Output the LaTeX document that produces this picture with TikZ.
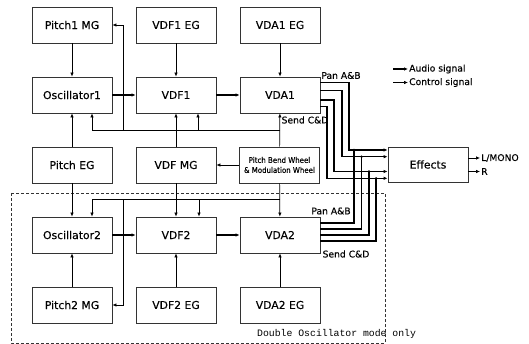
\documentclass[tikz,border=0pt]{standalone}
\usepackage{fontspec}
\setmainfont{DejaVu Sans}[FakeBold=0.35]
\newfontfamily\condfont{DejaVu Sans Condensed}[FakeBold=0.3]
\newfontfamily\monofont{Liberation Mono}
\usetikzlibrary{arrows.meta}
\begin{document}
\begin{tikzpicture}[x=1pt,y=-1pt,
  blk/.style={draw=black!80,line width=0.8pt,minimum width=80pt,minimum height=36pt,inner sep=0pt,font=\fontsize{10.8}{12}\selectfont},
  ctrl/.style={line width=0.7pt,-{Latex[length=4pt,width=3.5pt]}},
  audio/.style={line width=1.3pt,-{Latex[length=4pt,width=3.5pt]}},
  wire/.style={line width=1.3pt},
  lbl/.style={font=\fontsize{9.2}{10}\selectfont,inner sep=0pt},
  jdot/.style={fill,circle,inner sep=0pt,minimum size=2.6pt}]
\useasboundingbox (0,0) rectangle (529,344);
% blocks
\node[blk] (p1mg) at (72,25) {Pitch1 MG};
\node[blk] (vdf1eg) at (176,25) {VDF1 EG};
\node[blk] (vda1eg) at (280,25) {VDA1 EG};
\node[blk] (osc1) at (72,95) {Oscillator1};
\node[blk] (vdf1) at (176,95) {VDF1};
\node[blk] (vda1) at (280,95) {VDA1};
\node[blk] (peg) at (72,165) {Pitch EG};
\node[blk] (vdfmg) at (176,165) {VDF MG};
\node[blk,font=\condfont\fontsize{7.8}{10}\selectfont,align=center] (wheel) at (279.5,165) {Pitch Bend Wheel\\[0pt]\& Modulation Wheel};
\node[blk] (osc2) at (72,235) {Oscillator2};
\node[blk] (vdf2) at (176,235) {VDF2};
\node[blk] (vda2) at (280,235) {VDA2};
\node[blk] (p2mg) at (72,305) {Pitch2 MG};
\node[blk] (vdf2eg) at (176,305) {VDF2 EG};
\node[blk] (vda2eg) at (280,305) {VDA2 EG};
\node[blk,minimum height=35pt] (fx) at (428,164.5) {Effects};
% dashed region
\draw[line width=0.8pt,dash pattern=on 3pt off 2pt,black!80] (11,193) rectangle (385,343);
\node[font=\monofont\fontsize{9.8}{10}\selectfont,anchor=west,inner sep=0pt] (dbl) at (257,334) {Double Oscillator mode only};
% vertical control
\draw[ctrl] (p1mg) -- (osc1);
\draw[ctrl] (peg) -- (osc1);
\draw[ctrl] (vdf1eg) -- (vdf1);
\draw[ctrl] (vdfmg) -- (vdf1);
\draw[ctrl] (vda1eg) -- (vda1);
\draw[ctrl] (wheel) -- (vda1);
\draw[ctrl] (wheel) -- (vdfmg);
\draw[ctrl] (peg) -- (osc2);
\draw[ctrl] (vdfmg) -- (vdf2);
\draw[ctrl] (wheel) -- (vda2);
\draw[ctrl] (p2mg) -- (osc2);
\draw[ctrl] (vdf2eg) -- (vdf2);
\draw[ctrl] (vda2eg) -- (vda2);
% buses
\coordinate (b1) at (280,130.5);
\coordinate (b2) at (280,199.5);
\draw[line width=0.7pt] (b1) -- (92,130.5);
\draw[ctrl] (92,130.5) -- (92,0 |- osc1.south);
\draw[ctrl] (198,130.5) -- (198,0 |- vdf1.south);
\draw[ctrl] (123,130.5) |- (p1mg.east);
\draw[line width=0.7pt] (b2) -- (92,199.5);
\draw[ctrl] (92,199.5) -- (92,0 |- osc2.north);
\draw[ctrl] (199,199.5) -- (199,0 |- vdf2.north);
\draw[ctrl] (123,199.5) |- (p2mg.east);
% audio
\draw[audio] (osc1) -- (vdf1);
\draw[audio] (vdf1) -- (vda1);
\draw[audio] (osc2) -- (vdf2);
\draw[audio] (vdf2) -- (vda2);
% VDA1 outputs
\draw[audio] (vda1.east |- 0,82.7) -| (349,150) -- (fx.west |- 0,150);
\draw[audio] (vda1.east |- 0,90.7) -| (342,156.7) -- (fx.west |- 0,156.7);
\draw[audio] (vda1.east |- 0,100) -| (334,171.5) -- (fx.west |- 0,171.5);
\draw[audio] (vda1.east |- 0,106.7) -| (327,178.3) -- (fx.west |- 0,178.3);
% VDA2 outputs
\draw[wire] (vda2.east |- 0,223) -| (354,150);
\draw[wire] (vda2.east |- 0,229) -| (361.5,156.7);
\draw[wire] (vda2.east |- 0,235) -| (369,171.5);
\draw[wire] (vda2.east |- 0,241) -| (376,178.3);
\node[jdot] (j1) at (354,150) {};
\node[jdot] (j2) at (361.5,156.7) {};
\node[jdot] (j3) at (369,171.5) {};
\node[jdot] (j4) at (376,178.3) {};
% outputs
\coordinate (lo) at (480,158);
\coordinate (ro) at (480,171.5);
\draw[ctrl] (fx.east |- lo) -- (lo);
\draw[ctrl] (fx.east |- ro) -- (ro);
\node[lbl,anchor=west] (lmono) at (481,158) {L/MONO};
\node[lbl,anchor=west] (rlab) at (481,171.5) {R};
% labels
\node[lbl] (pan1) at (341,75.5) {Pan A\&B};
\node[lbl] (send1) at (305,120) {Send C\&D};
\node[lbl] (pan2) at (331,211) {Pan A\&B};
\node[lbl] (send2) at (346,254) {Send C\&D};
% legend
\coordinate (la1) at (393,69);
\coordinate (la2) at (408,69);
\coordinate (lc1) at (393,82.5);
\coordinate (lc2) at (408,82.5);
\draw[audio] (la1) -- (la2);
\draw[ctrl] (lc1) -- (lc2);
\node[lbl,anchor=west] (lga) at (409,69) {Audio signal};
\node[lbl,anchor=west] (lgc) at (409,82.5) {Control signal};
\end{tikzpicture}
\end{document}
